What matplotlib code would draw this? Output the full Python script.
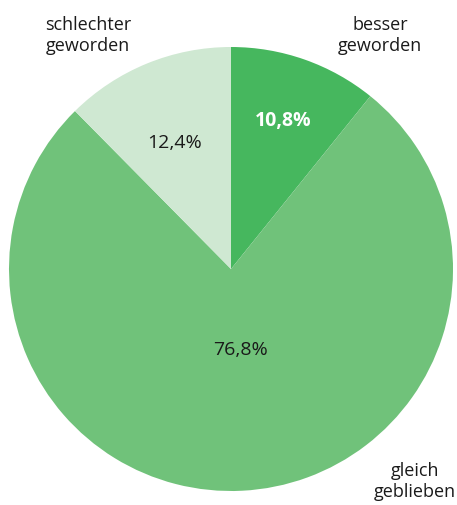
import matplotlib
matplotlib.use("Agg")
from matplotlib import pyplot as plt

labels = ["besser\ngeworden", "gleich\ngeblieben", "schlechter\ngeworden"]
values = [10.8, 76.8, 12.4]
colors = ["#46b75e", "#70c27a", "#cfe8d2"]
pct_text = ["10,8%", "76,8%", "12,4%"]

plt.rcParams["font.family"] = ["Open Sans", "DejaVu Sans"]

W, H, DPI = 457, 505, 100
fig = plt.figure(figsize=(W / DPI, H / DPI), dpi=DPI)
cx, cy, r = 231, 269, 222
ax = fig.add_axes([(cx - r) / W, (H - cy - r) / H, 2 * r / W, 2 * r / H])

ax.pie(values, colors=colors, startangle=90, counterclock=False, radius=1,
       wedgeprops=dict(linewidth=0))
ax.set_xlim(-1, 1)
ax.set_ylim(-1, 1)
ax.set_aspect("equal")
ax.axis("off")

# outer labels
label_pos = [(0.671, 1.05), (0.829, -0.959), (-0.644, 1.05)]
for txt, (x, y) in zip(labels, label_pos):
    ax.text(x, y, txt, ha="center", va="center", fontsize=13,
            color="#1a1a1a", linespacing=1.2, clip_on=False)

# percentages
pct_pos = [(0.234, 0.667), (0.045, -0.365), (-0.252, 0.568)]
pct_style = [dict(color="white", fontweight="bold"), dict(color="#1a1a1a"),
             dict(color="#1a1a1a")]
for txt, (x, y), st in zip(pct_text, pct_pos, pct_style):
    ax.text(x, y, txt, ha="center", va="center", fontsize=14, **st)

fig.savefig("out.png", dpi=DPI)
